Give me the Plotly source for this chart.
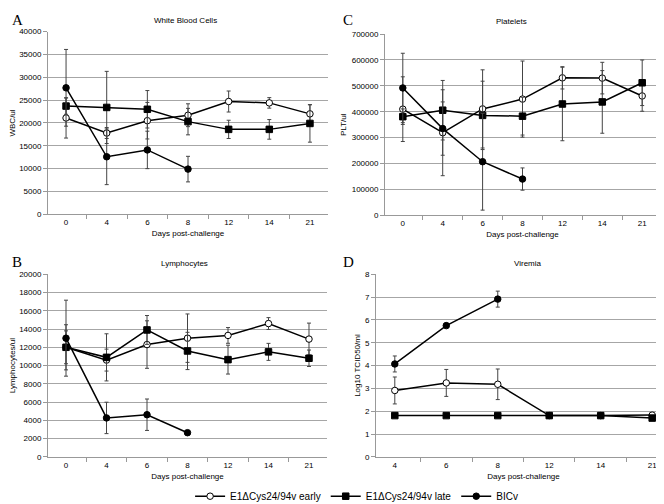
import plotly.graph_objects as go

days = ["0", "4", "6", "8", "12", "14", "21"]
bicv_days = ["0", "4", "6", "8"]
vir_days = ["4", "6", "8", "12", "14", "21"]
vir_bicv_days = ["4", "6", "8"]

# White blood cells (WBC/ul)
wbc_early = [21100, 17800, 20500, 21700, 24700, 24400, 22000]
wbc_early_err = [4400, 1200, 4000, 2500, 2300, 1150, 2000]
wbc_late = [23700, 23400, 23000, 20300, 18600, 18600, 19900]
wbc_late_err = [1800, 7900, 4100, 2900, 2000, 2150, 4100]
wbc_bicv = [27700, 12600, 14100, 9900]
wbc_bicv_err = [8400, 6100, 4100, 2800]

# Platelets (PLT/ul)
plt_early = [410000, 319000, 411000, 449000, 531000, 530000, 461000]
plt_early_err = [125000, 166000, 151000, 147000, 43000, 61000, 59000]
plt_late = [381000, 406000, 386000, 383000, 430000, 438000, 512000]
plt_late_err = [30000, 115000, 132000, 73000, 142000, 121000, 88000]
plt_bicv = [492000, 335000, 207000, 140000]
plt_bicv_err = [134000, 103000, 187000, 43000]

# Lymphocytes (Lymphocytes/ul)
lym_early = [12000, 10600, 12300, 13000, 13300, 14600, 12900]
lym_early_err = [1800, 1200, 2600, 2650, 860, 650, 1750]
lym_late = [12000, 10900, 13900, 11600, 10650, 11500, 10800]
lym_late_err = [2470, 2580, 1580, 2040, 1580, 930, 900]
lym_bicv = [13000, 4270, 4620, 2650]
lym_bicv_err = [4160, 1720, 1720, 0]

# Viremia (Log10 TCID50/ml)
vir_early = [2.91, 3.24, 3.18, 1.81, 1.81, 1.83]
vir_early_err = [0.59, 0.59, 0.67, 0, 0, 0]
vir_late = [1.81, 1.81, 1.81, 1.81, 1.81, 1.70]
vir_late_err = [0, 0, 0, 0, 0, 0]
vir_bicv = [4.07, 5.75, 6.91]
vir_bicv_err = [0.35, 0, 0.35]

names = ["E1ΔCys24/94v early", "E1ΔCys24/94v late", "BICv"]
FONT = "Liberation Sans, Arial, sans-serif"
W, H = 664, 504

def px(x):
    return x / W

def py(y):
    return 1 - y / H

fig = go.Figure()

marker_styles = [
    dict(symbol="circle", color="white", size=6.5, line=dict(color="black", width=1)),
    dict(symbol="square", color="black", size=6.5, line=dict(color="black", width=1)),
    dict(symbol="circle", color="black", size=6.5, line=dict(color="black", width=1)),
]

panels = [
    ("", [(days, wbc_early, wbc_early_err), (days, wbc_late, wbc_late_err), (bicv_days, wbc_bicv, wbc_bicv_err)]),
    ("2", [(days, plt_early, plt_early_err), (days, plt_late, plt_late_err), (bicv_days, plt_bicv, plt_bicv_err)]),
    ("3", [(days, lym_early, lym_early_err), (days, lym_late, lym_late_err), (bicv_days, lym_bicv, lym_bicv_err)]),
    ("4", [(vir_days, vir_early, vir_early_err), (vir_days, vir_late, vir_late_err), (vir_bicv_days, vir_bicv, vir_bicv_err)]),
]

for pi, (ax, series) in enumerate(panels):
    for si, (xs, ys, errs) in enumerate(series):
        fig.add_trace(go.Scatter(
            x=xs, y=ys, mode="lines+markers",
            name=names[si], legendgroup=names[si], showlegend=(pi == 0),
            line=dict(color="black", width=1.5),
            marker=marker_styles[si],
            error_y=dict(type="data", array=errs, visible=True,
                         color="#444444", thickness=1, width=2),
            xaxis="x" + ax, yaxis="y" + ax,
        ))

axis_common = dict(
    showline=True, linecolor="#999999", linewidth=1,
    ticks="outside", tickcolor="#999999", ticklen=4,
    tickfont=dict(family=FONT, size=8, color="black"),
)

areas = {
    "": (40, 320, 20, 206),
    "2": (377, 652, 22.5, 207),
    "3": (40, 319, 267, 453),
    "4": (368, 663, 267, 453),
}
yranges = {"": (40000, 5000, "WBC/ul"), "2": (700000, 100000, "PLT/ul"),
           "3": (20000, 2000, "Lymphocytes/ul"), "4": (8, 1, "Log10 TCID50/ml")}

layout = {}
for ax, (l, r, t, b) in areas.items():
    ymax, dt, ytitle = yranges[ax]
    layout["xaxis" + ax] = dict(
        axis_common, type="category", domain=[px(l), px(r)],
        anchor="y" + ax, tickson="boundaries", showgrid=False,
        title=dict(text="Days post-challenge", font=dict(family=FONT, size=8, color="black"), standoff=4),
    )
    layout["yaxis" + ax] = dict(
        axis_common, domain=[py(b), py(t)], anchor="x" + ax,
        range=[0, ymax], dtick=dt, tickformat="d", showgrid=True,
        gridcolor="#a6a6a6", gridwidth=1, zeroline=False,
        title=dict(text=ytitle, font=dict(family=FONT, size=8, color="black"), standoff=3),
    )

fig.update_layout(**layout)

annotations = []
titles = [("White Blood Cells", 177, 9), ("Platelets", 503, 10), ("Lymphocytes", 176, 256), ("Viremia", 520, 256)]
for txt, x, y in titles:
    annotations.append(dict(text=txt, x=px(x), y=py(y), xref="paper", yref="paper",
                            showarrow=False, font=dict(family=FONT, size=8, color="black"),
                            xanchor="center", yanchor="middle"))
letters = [("A", 2, 8), ("C", 333, 8), ("B", 2, 255), ("D", 333, 255)]
for txt, x, y in letters:
    annotations.append(dict(text=txt, x=px(x), y=py(y), xref="paper", yref="paper",
                            showarrow=False, font=dict(family="Liberation Serif, Times New Roman, serif", size=15, color="black"),
                            xanchor="left", yanchor="middle"))

fig.update_layout(
    width=W, height=H,
    margin=dict(l=0, r=0, t=0, b=0),
    paper_bgcolor="white", plot_bgcolor="white",
    font=dict(family=FONT, color="black"),
    annotations=annotations,
    legend=dict(orientation="h", x=0.525, xanchor="center", y=py(493), yanchor="middle",
                font=dict(family=FONT, size=10, color="black"), itemwidth=30,
                bgcolor="rgba(0,0,0,0)"),
)

fig.write_html("out.html")
